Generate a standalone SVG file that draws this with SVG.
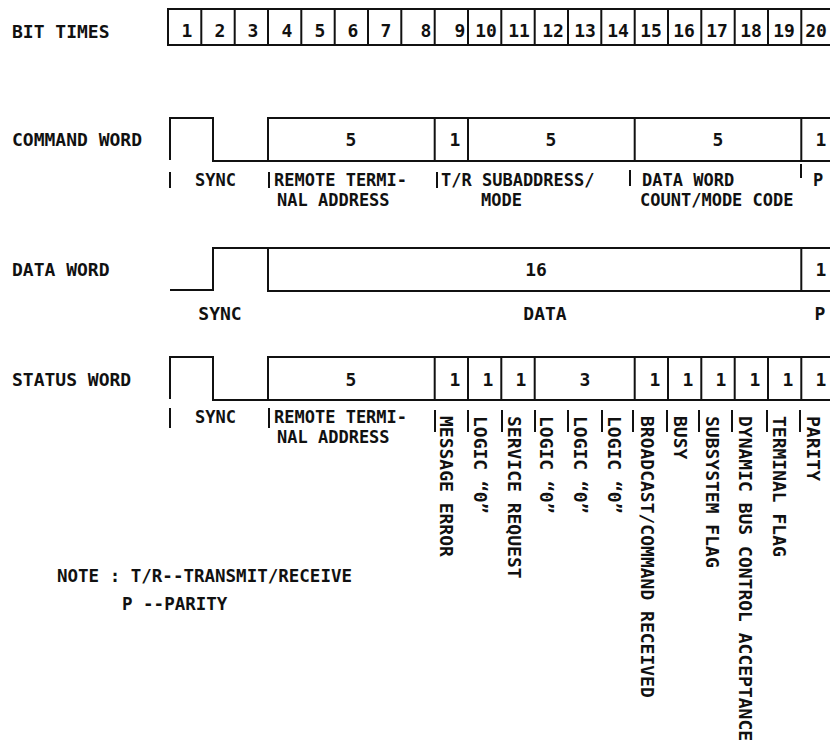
<svg xmlns="http://www.w3.org/2000/svg" width="830" height="751" viewBox="0 0 830 751">
<style>
text{font-family:"DejaVu Sans Mono","Liberation Mono",monospace;font-weight:bold;font-size:18px;fill:#111}
.n{text-anchor:middle}
.s{font-size:17px}
.ln{stroke:#111;stroke-width:2;fill:none}
.bar{stroke:#111;stroke-width:2}
</style>
<rect width="830" height="751" fill="#fff"/>
<g id="bit-times">
<text x="12" y="38">BIT TIMES</text>
<rect class="ln" x="168" y="9" width="666" height="36"/>
<path class="ln" d="M201.3,9V45M234.7,9V45M268,9V45M301.3,9V45M334.7,9V45M368,9V45M401.3,9V45M434.7,9V45M468,9V45M501.3,9V45M534.7,9V45M568,9V45M601.3,9V45M634.7,9V45M668,9V45M701.3,9V45M734.7,9V45M768,9V45M801.3,9V45"/>
<g class="n">
<text x="187" y="37">1</text><text x="220" y="37">2</text><text x="253" y="37">3</text><text x="287" y="37">4</text><text x="320" y="37">5</text><text x="353" y="37">6</text><text x="386" y="37">7</text><text x="426" y="37">8</text><text x="460" y="37">9</text>
<text x="486" y="37">10</text><text x="519" y="37">11</text><text x="553" y="37">12</text><text x="585" y="37">13</text><text x="618" y="37">14</text><text x="651" y="37">15</text><text x="684" y="37">16</text><text x="717" y="37">17</text><text x="751" y="37">18</text><text x="784" y="37">19</text><text x="816" y="37">20</text>
</g>
</g>
<g id="command-word">
<text x="12" y="146">COMMAND WORD</text>
<path class="ln" d="M170,160V118H213V161H268V118H834M268,161H834M434.7,118V161M468,118V161M634.7,118V161M801.3,118V161"/>
<g class="n"><text x="351" y="146">5</text><text x="455" y="146">1</text><text x="551" y="146">5</text><text x="718" y="146">5</text><text x="821" y="146">1</text></g>
<path class="bar" d="M170,172V188M269,172V188M437,172V188M630,170V186M801,164V178"/>
<text class="s" x="195" y="186">SYNC</text>
<text class="s" x="274" y="186">REMOTE TERMI-</text>
<text class="s" x="277" y="206">NAL ADDRESS</text>
<text class="s" x="441" y="186">T/R SUBADDRESS/</text>
<text class="s" x="481" y="206">MODE</text>
<text class="s" x="642" y="186">DATA WORD</text>
<text class="s" x="640" y="206">COUNT/MODE CODE</text>
<text class="s" x="813" y="186">P</text>
</g>
<g id="data-word">
<text x="12" y="276">DATA WORD</text>
<path class="ln" d="M170,290H213V248H834M268,248V291H834M801.3,248V291"/>
<g class="n"><text x="536" y="276">16</text><text x="821" y="276">1</text>
<text x="220" y="320">SYNC</text><text x="545" y="320">DATA</text><text x="820" y="320">P</text></g>
</g>
<g id="status-word">
<text x="12" y="386">STATUS WORD</text>
<path class="ln" d="M170,399V357H213V400H268V357H834M268,400H834M434.7,357V400M468,357V400M501.3,357V400M534.7,357V400M634.7,357V400M668,357V400M701.3,357V400M734.7,357V400M768,357V400M801.3,357V400"/>
<g class="n"><text x="351" y="386">5</text><text x="455" y="386">1</text><text x="488" y="386">1</text><text x="521" y="386">1</text><text x="585" y="386">3</text><text x="655" y="386">1</text><text x="688" y="386">1</text><text x="721" y="386">1</text><text x="755" y="386">1</text><text x="788" y="386">1</text><text x="821" y="386">1</text></g>
<path class="bar" d="M170,408V428M269,408V428M435,410V432M468,410V432M502,410V432M535,410V432M568,410V432M602,410V432M633,410V432M667,410V432M699,410V432M732,410V432M767,410V432M800,410V432"/>
<text class="s" x="195" y="423">SYNC</text>
<text class="s" x="274" y="423">REMOTE TERMI-</text>
<text class="s" x="277" y="443">NAL ADDRESS</text>
<text transform="translate(440,416) rotate(90)">MESSAGE ERROR</text>
<text transform="translate(474,416) rotate(90)">LOGIC “0”</text>
<text transform="translate(508,416) rotate(90)">SERVICE REQUEST</text>
<text transform="translate(540,416) rotate(90)">LOGIC “0”</text>
<text transform="translate(574,416) rotate(90)">LOGIC “0”</text>
<text transform="translate(608,416) rotate(90)">LOGIC “0”</text>
<text transform="translate(641,416) rotate(90)">BROADCAST/COMMAND RECEIVED</text>
<text transform="translate(674,416) rotate(90)">BUSY</text>
<text transform="translate(706,416) rotate(90)">SUBSYSTEM FLAG</text>
<text transform="translate(739,416) rotate(90)">DYNAMIC BUS CONTROL ACCEPTANCE</text>
<text transform="translate(773,416) rotate(90)">TERMINAL FLAG</text>
<text transform="translate(807,416) rotate(90)">PARITY</text>
</g>
<g id="note">
<text x="57" y="582" style="font-size:17.5px" xml:space="preserve">NOTE : T/R--TRANSMIT/RECEIVE</text>
<text x="122" y="610" style="font-size:17.5px" xml:space="preserve">P --PARITY</text>
</g>
</svg>
